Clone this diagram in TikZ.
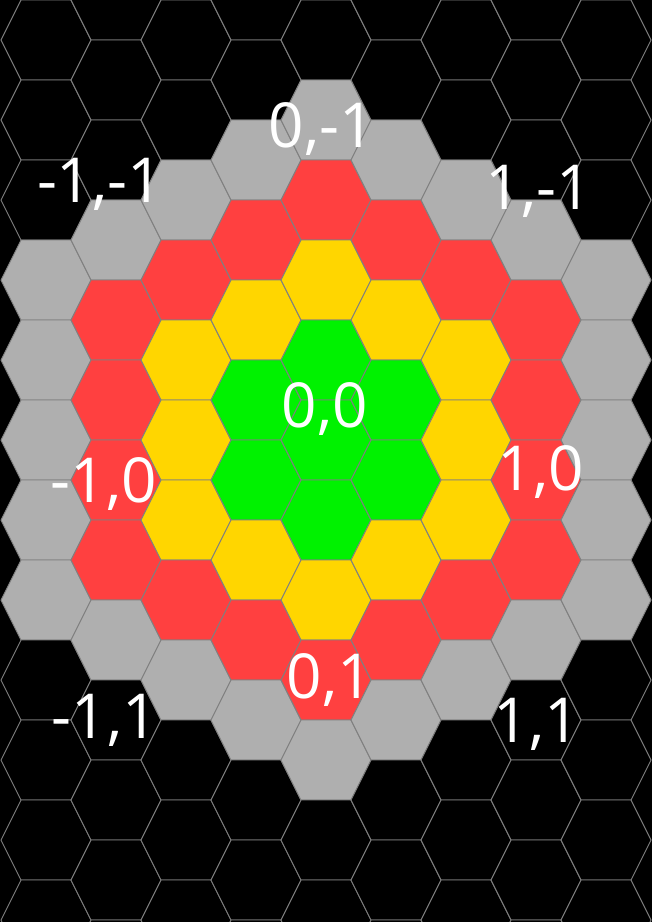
\documentclass[tikz,border=0pt]{standalone}
\usepackage{fontspec}
\setmainfont{Open Sans}
\usepackage{tikz}
\usetikzlibrary{positioning}

\definecolor{hexgreen}{RGB}{0,242,0}
\definecolor{hexyellow}{RGB}{255,214,0}
\definecolor{hexred}{RGB}{255,64,64}
\definecolor{hexgray}{RGB}{175,175,175}
\definecolor{hexedge}{RGB}{128,128,128}

\begin{document}
\begin{tikzpicture}[x=1pt, y=-1pt,
    hexline/.style={draw=hexedge, line width=0.9pt, line join=miter},
    coord/.style={anchor=base, text=white, inner sep=0pt, font=\fontsize{62}{62}\selectfont}]
  \useasboundingbox (0,0) rectangle (652,922);
  \fill[black] (0,0) rectangle (652,922);
  \begin{scope}
    \clip (0,0) rectangle (652,922);
    % ring colour from hex distance to the centre cell
    \foreach \c in {0,...,8}{
      \foreach \j in {0,...,12}{
        \pgfmathsetmacro{\cx}{46+70*\c}
        \pgfmathsetmacro{\cy}{80*\j+40*(1-mod(\c,2))}
        \pgfmathtruncatemacro{\dq}{abs(\c-4)}
        \pgfmathtruncatemacro{\dk}{abs(\cy/40-11)}
        \pgfmathtruncatemacro{\dd}{\dq+max(0,(\dk-\dq)/2)}
        \ifcase\dd\relax \def\hexcol{hexgreen}\or \def\hexcol{hexgreen}\or \def\hexcol{hexyellow}\or \def\hexcol{hexred}\or \def\hexcol{hexgray}\else \def\hexcol{black}\fi
        \draw[hexline, fill=\hexcol] (\cx-45,\cy) -- ++(20,-40) -- ++(50,0) -- ++(20,40) -- ++(-20,40) -- ++(-50,0) -- cycle;
      }
    }
  \end{scope}
  \node[coord] (labmm) at (100,202) {-1,-1};
  \node[coord] (labzm) at (322,147) {0,-1};
  \node[coord] (labpm) at (539,209) {1,-1};
  \node[coord] (labmz) at (104,502) {-1,0};
  \node[coord] (labzz) at (325,427) {0,0};
  \node[coord] (labpz) at (541,490) {1,0};
  \node[coord] (labmp) at (105,738) {-1,1};
  \node[coord] (labzp) at (330,698) {0,1};
  \node[coord] (labpp) at (537,742) {1,1};
\end{tikzpicture}
\end{document}
